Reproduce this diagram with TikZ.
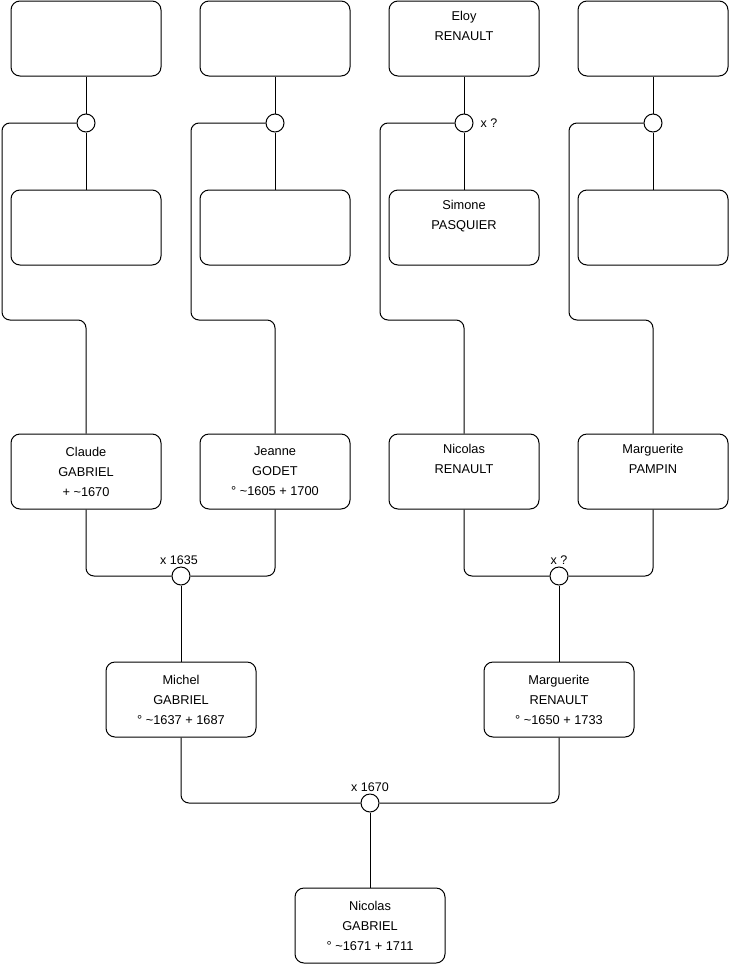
\documentclass[tikz,border=0pt]{standalone}
\usepackage{fontspec}
\setmainfont{Liberation Sans}
\begin{document}
\begin{tikzpicture}[x=1pt,y=-1pt,
  person/.style={draw,line width=1pt,rounded corners=9pt,minimum width=150pt,minimum height=75pt,inner sep=0pt,align=center,font=\fontsize{12.8}{20}\selectfont},
  union/.style={draw,line width=1pt,circle,minimum size=18pt,inner sep=0pt,fill=white},
  lnk/.style={line width=1pt,rounded corners=8pt},
  lab/.style={font=\fontsize{12.5}{14}\selectfont,inner sep=1pt}]
\useasboundingbox (0,0) rectangle (740,975);
% top row
\node[person] (t1) at (86,38.5) {};
\node[person] (t2) at (275,38.5) {};
\node[person] (t3) at (464,38.5) {Eloy\\RENAULT\\\strut};
\node[person] (t4) at (653,38.5) {};
% second row
\node[person] (s1) at (86,227.5) {};
\node[person] (s2) at (275,227.5) {};
\node[person] (s3) at (464,227.5) {Simone\\PASQUIER\\\strut};
\node[person] (s4) at (653,227.5) {};
% unions top
\node[union] (u1) at (86,123) {};
\node[union] (u2) at (275,123) {};
\node[union] (u3) at (464,123) {};
\node[union] (u4) at (653,123) {};
\node[lab,anchor=west] (lu3) at (u3.east) [xshift=6pt] {x ?};
% third row
\node[person] (p1) at (86,471.5) {Claude\\GABRIEL\\+ \textasciitilde1670};
\node[person] (p2) at (275,471.5) {Jeanne\\GODET\\° \textasciitilde1605 + 1700};
\node[person] (p3) at (464,471.5) {Nicolas\\RENAULT\\\strut};
\node[person] (p4) at (653,471.5) {Marguerite\\PAMPIN\\\strut};
% unions mid
\node[union] (m1) at (181,576) {};
\node[union] (m2) at (559,576) {};
\node[lab,anchor=south] (lm1) at (179,566) {x 1635};
\node[lab,anchor=south] (lm2) at (559,566) {x ?};
% fourth row
\node[person] (c1) at (181,699.5) {Michel\\GABRIEL\\° \textasciitilde1637 + 1687};
\node[person] (c2) at (559,699.5) {Marguerite\\RENAULT\\° \textasciitilde1650 + 1733};
% bottom union
\node[union] (b) at (370,803) {};
\node[lab,anchor=south] (lb) at (370,793) {x 1670};
\node[person] (n) at (370,925.5) {Nicolas\\GABRIEL\\° \textasciitilde1671 + 1711};
% connectors top
\foreach \i/\x in {1/2,2/191,3/380,4/569}{
  \draw[lnk] (t\i.south) -- (u\i.north);
  \draw[lnk] (u\i.south) -- (s\i.north);
  \draw[lnk] (u\i.west) -| (\x,320) -| (p\i.north);
}
% connectors mid
\draw[lnk] (p1.south) |- (m1.west);
\draw[lnk] (p2.south) |- (m1.east);
\draw[lnk] (m1.south) -- (c1.north);
\draw[lnk] (p3.south) |- (m2.west);
\draw[lnk] (p4.south) |- (m2.east);
\draw[lnk] (m2.south) -- (c2.north);
% bottom
\draw[lnk] (c1.south) |- (b.west);
\draw[lnk] (c2.south) |- (b.east);
\draw[lnk] (b.south) -- (n.north);
\end{tikzpicture}
\end{document}
